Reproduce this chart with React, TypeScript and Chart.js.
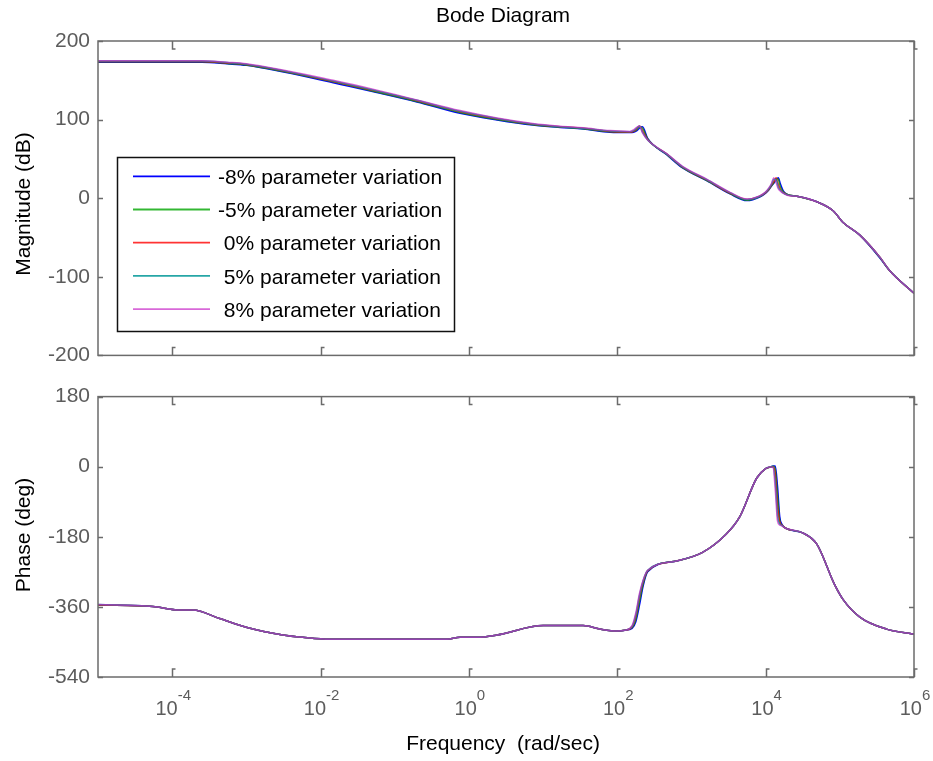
import React, { useEffect, useRef } from "react";
import { Chart, registerables } from "chart.js";

Chart.register(...registerables);

// ---------- data ----------
const seriesLabels = [
  "-8% parameter variation",
  "-5% parameter variation",
  " 0% parameter variation",
  " 5% parameter variation",
  " 8% parameter variation",
];
const seriesColors = [
  "#0000ff",
  "rgba(0,165,0,0.8)",
  "rgba(255,0,0,0.8)",
  "rgba(0,150,150,0.85)",
  "rgba(200,40,200,0.7)",
];

// frequency grid for magnitude, as log10(rad/sec)
const magFreqExp = [
  -5, -3.6, -3.26, -3.0, -1.83, -1.24, -0.7, -0.12, 0.38, 0.86,
  1.23, 1.54, 1.9, 2.17, 2.22, 2.26, 2.3, 2.34, 2.41, 2.67,
  2.88, 3.21, 3.52, 3.75, 3.92, 4.0, 4.05, 4.08, 4.11, 4.14,
  4.17, 4.2, 4.24, 4.3, 4.42, 4.69, 4.91, 5.04, 5.27, 5.54,
  5.67, 6.0,
];
const magMinus8 = [
  173, 173, 171, 169, 147, 134.5, 122.5, 108, 99.5, 93,
  90, 88, 84, 83.5, 84, 85.5, 89, 91, 76, 55,
  38.5, 22, 5.5, -3, 1.5, 6.5, 11.5, 15.5, 19, 23,
  26, 18, 9, 4.5, 2.5, -4.5, -16, -30.5, -47, -76,
  -92, -121,
];
const magMinus5 = [
  173.5, 173.5, 171.5, 169.5, 148, 135, 123, 109, 100, 93.5,
  90.5, 88.5, 84.5, 84, 85, 87, 91, 89, 75.5, 55.5,
  39, 22.5, 6, -2.5, 2, 7, 12, 16, 20, 25,
  24, 14, 8, 4.5, 2.5, -4.5, -16, -30.5, -47, -75.5,
  -92, -121,
];
const magZero = [
  174, 174, 172, 170, 148.5, 136, 124, 110, 101, 94,
  91, 89, 85, 84, 85, 88, 92, 86, 74.5, 56,
  39.5, 23, 6.5, -1.6, 2.5, 7, 12, 17, 21, 26,
  18, 11, 7, 4, 2.5, -4.5, -16, -30.5, -47, -75,
  -92, -121,
];
const magPlus5 = [
  174.5, 174.5, 172.5, 170.5, 149, 136.5, 124.5, 110.5, 101.5, 94.5,
  91, 89, 85.5, 84.5, 86, 89, 92, 84, 74, 56,
  40, 23.5, 7, -1.5, 2.5, 7.5, 13, 18, 24, 24,
  14, 10, 6.5, 4, 2.5, -4.5, -16, -30.5, -47, -75,
  -92, -121,
];
const magPlus8 = [
  175, 175, 173, 171, 150, 137.5, 125, 111.5, 102, 95,
  91.5, 89.5, 86, 85, 87, 90, 92, 83, 74, 56.5,
  40.5, 24, 7.5, -1, 3, 8, 14, 19, 26, 20,
  12, 9, 6, 3.5, 2.5, -4.5, -16, -30.5, -47, -75,
  -92, -121,
];

// frequency grid for phase, as log10(rad/sec)
const phaseFreqExp = [
  -5, -4.26, -3.9, -3.72, -3.36, -2.99, -2.51, -2.24, -1.87, -0.3,
  -0.12, 0.11, 0.38, 1.0, 1.54, 1.77, 2.0, 2.1, 2.2, 2.25,
  2.3, 2.35, 2.41, 2.8, 3.15, 3.47, 3.65, 3.88, 4.0, 4.06,
  4.1, 4.13, 4.16, 4.19, 4.22, 4.27, 4.5, 4.69, 4.93, 5.04,
  5.27, 5.63, 6.0,
];
const phaseMinus8 = [
  -355, -359, -368, -368, -390, -413, -432, -438, -443, -443,
  -438, -438, -432, -408, -408, -417, -422, -420, -415, -398,
  -355, -305, -270, -242, -220, -173, -129, -29, -5, -1,
  2, 2, -50, -128, -148, -158, -170, -199, -303, -340,
  -386, -417, -430,
];
const phaseMinus5 = [
  -355, -359, -368, -368, -390, -413, -432, -438, -443, -443,
  -438, -438, -432, -408, -408, -417, -422, -420, -413, -392,
  -345, -300, -268, -242, -220, -173, -129, -29, -5, -1,
  1, -8, -75, -138, -150, -158, -170, -199, -303, -340,
  -386, -417, -430,
];
const phaseZero = [
  -355, -359, -368, -368, -390, -413, -432, -438, -443, -443,
  -438, -438, -432, -408, -408, -417, -422, -420, -411, -385,
  -335, -295, -267, -242, -220, -173, -129, -29, -5, -1,
  0, -20, -100, -142, -150, -158, -170, -199, -303, -340,
  -386, -417, -430,
];
const phasePlus5 = [
  -354, -359, -368, -368, -390, -413, -432, -438, -443, -443,
  -438, -438, -432, -408, -408, -417, -422, -420, -410, -380,
  -330, -292, -266, -242, -220, -173, -129, -29, -5, -1,
  -1, -40, -125, -147, -151, -158, -170, -199, -303, -340,
  -386, -417, -430,
];
const phasePlus8 = [
  -354, -359, -368, -368, -390, -413, -432, -438, -443, -443,
  -438, -438, -432, -408, -408, -417, -422, -420, -408, -375,
  -325, -290, -266, -242, -220, -173, -129, -29, -5, -1,
  -2, -60, -140, -150, -152, -158, -170, -199, -303, -340,
  -386, -417, -430,
];

const xTickExps = [-4, -2, 0, 2, 4, 6];
const magTicks = [-200, -100, 0, 100, 200];
const phaseTicks = [-540, -360, -180, 0, 180];

const titleText = "Bode Diagram";
const magAxisTitle = "Magnitude (dB)";
const phaseAxisTitle = "Phase (deg)";
const freqAxisTitle = "Frequency  (rad/sec)";

// ---------- styling ----------
const FONT = '"Liberation Sans", Arial, Helvetica, sans-serif';
const AXIS_GRAY = "#6b6b6b";
const TICK_TEXT = "#5c5c5c";
const W = 933;
const TOP_H = 376;
const BOT_H = 761 - TOP_H;

const toPoints = (exps: number[], vals: number[]) =>
  exps.map((e, i) => ({ x: Math.pow(10, e), y: vals[i] }));

function makeDatasets(exps: number[], series: number[][]) {
  return series.map((vals, i) => ({
    label: seriesLabels[i],
    data: toPoints(exps, vals),
    borderColor: seriesColors[i],
    backgroundColor: seriesColors[i],
    borderWidth: 1.5,
    pointRadius: 0,
    fill: false,
    cubicInterpolationMode: "monotone" as const,
    order: 5 - i,
  }));
}

function framePlugin(id: string, yTicks: number[]) {
  return {
    id,
    afterDatasetsDraw(chart: any) {
      const { ctx, chartArea: a, scales } = chart;
      const xs = scales.x;
      const ys = scales.y;
      ctx.save();
      ctx.strokeStyle = AXIS_GRAY;
      ctx.lineWidth = 1.5;
      ctx.strokeRect(a.left, a.top, a.right - a.left, a.bottom - a.top);
      ctx.lineWidth = 1.5;
      for (const v of yTicks) {
        const y = Math.round(ys.getPixelForValue(v)) + 0.5;
        ctx.beginPath();
        ctx.moveTo(a.left, y);
        ctx.lineTo(a.left + 5, y);
        ctx.moveTo(a.right - 5, y);
        ctx.lineTo(a.right, y);
        ctx.stroke();
      }
      for (const e of xTickExps) {
        const x = Math.round(xs.getPixelForValue(Math.pow(10, e))) + 0.5;
        ctx.beginPath();
        ctx.moveTo(x, a.top);
        ctx.lineTo(x, a.top + 8);
        ctx.lineTo(x + 3, a.top + 8);
        ctx.moveTo(x, a.bottom);
        ctx.lineTo(x, a.bottom - 8);
        ctx.lineTo(x + 3, a.bottom - 8);
        ctx.stroke();
      }
      ctx.restore();
    },
  };
}

function drawVerticalTitle(ctx: CanvasRenderingContext2D, text: string, x: number, y: number) {
  ctx.save();
  ctx.translate(x, y);
  ctx.rotate(-Math.PI / 2);
  ctx.fillStyle = "#000";
  ctx.font = `21px ${FONT}`;
  ctx.textAlign = "center";
  ctx.textBaseline = "alphabetic";
  ctx.fillText(text, 0, 0);
  ctx.restore();
}

const topDecor = {
  id: "topDecor",
  afterDraw(chart: any) {
    const ctx: CanvasRenderingContext2D = chart.ctx;
    ctx.save();
    // title
    ctx.fillStyle = "#000";
    ctx.font = `21px ${FONT}`;
    ctx.textAlign = "center";
    ctx.textBaseline = "alphabetic";
    ctx.fillText(titleText, 503, 22);
    // legend
    ctx.fillStyle = "#fff";
    ctx.fillRect(117, 157, 338, 174);
    ctx.strokeStyle = "#111";
    ctx.lineWidth = 1.5;
    ctx.strokeRect(117.5, 157.5, 337, 174);
    chart.data.datasets.forEach((ds: any, i: number) => {
      const y = 176.3 + i * 33.2;
      ctx.strokeStyle = ds.borderColor;
      ctx.lineWidth = 1.8;
      ctx.beginPath();
      ctx.moveTo(133, y);
      ctx.lineTo(210, y);
      ctx.stroke();
      ctx.fillStyle = "#000";
      ctx.font = `21px ${FONT}`;
      ctx.textAlign = "left";
      ctx.textBaseline = "middle";
      ctx.fillText(ds.label, 218, y + 2);
    });
    ctx.restore();
    drawVerticalTitle(ctx, magAxisTitle, 30, 204);
  },
};

const bottomDecor = {
  id: "bottomDecor",
  afterDraw(chart: any) {
    const ctx: CanvasRenderingContext2D = chart.ctx;
    const xs = chart.scales.x;
    ctx.save();
    ctx.fillStyle = TICK_TEXT;
    ctx.textBaseline = "alphabetic";
    ctx.textAlign = "left";
    for (const e of xTickExps) {
      const x = xs.getPixelForValue(Math.pow(10, e));
      const base = "10";
      const exp = String(e);
      ctx.font = `20px ${FONT}`;
      const wb = ctx.measureText(base).width;
      ctx.font = `15px ${FONT}`;
      const we = ctx.measureText(exp).width;
      const start = x - (wb + we) / 2 + 1;
      ctx.font = `20px ${FONT}`;
      ctx.fillText(base, start, 339);
      ctx.font = `15px ${FONT}`;
      ctx.fillText(exp, start + wb, 324);
    }
    ctx.fillStyle = "#000";
    ctx.font = `21px ${FONT}`;
    ctx.textAlign = "center";
    ctx.fillText(freqAxisTitle, 503, 374);
    ctx.restore();
    drawVerticalTitle(ctx, phaseAxisTitle, 30, 535 - TOP_H);
  },
};

function yAxis(min: number, max: number, ticks: number[]) {
  return {
    type: "linear" as const,
    position: "left" as const,
    min,
    max,
    grid: { display: false, drawTicks: false },
    border: { display: false },
    ticks: {
      color: TICK_TEXT,
      padding: 8,
      font: { family: FONT, size: 21 },
    },
    afterBuildTicks: (s: any) => {
      s.ticks = ticks.map((v) => ({ value: v }));
    },
    afterFit: (s: any) => {
      s.width = 98;
    },
  };
}

const xAxis = {
  type: "logarithmic" as const,
  min: 1e-5,
  max: 1e6,
  display: false,
};

export default function App() {
  const topRef = useRef<HTMLCanvasElement>(null);
  const botRef = useRef<HTMLCanvasElement>(null);

  useEffect(() => {
    const top = new Chart(topRef.current as HTMLCanvasElement, {
      type: "line",
      data: {
        datasets: makeDatasets(magFreqExp, [magMinus8, magMinus5, magZero, magPlus5, magPlus8]) as any,
      },
      options: {
        animation: false,
        responsive: false,
        devicePixelRatio: 1,
        parsing: true,
        layout: { padding: { left: 0, right: 19, top: 41, bottom: 12 } },
        plugins: { legend: { display: false }, tooltip: { enabled: false }, title: { display: false } },
        scales: { x: xAxis as any, y: yAxis(-200, 200, magTicks) as any },
      },
      plugins: [framePlugin("topFrame", magTicks), topDecor],
    });
    const bot = new Chart(botRef.current as HTMLCanvasElement, {
      type: "line",
      data: {
        datasets: makeDatasets(phaseFreqExp, [phaseMinus8, phaseMinus5, phaseZero, phasePlus5, phasePlus8]) as any,
      },
      options: {
        animation: false,
        responsive: false,
        devicePixelRatio: 1,
        layout: { padding: { left: 0, right: 19, top: 388 - TOP_H, bottom: 761 - 677 } },
        plugins: { legend: { display: false }, tooltip: { enabled: false }, title: { display: false } },
        scales: { x: xAxis as any, y: yAxis(-540, 180, phaseTicks) as any },
      },
      plugins: [framePlugin("botFrame", phaseTicks), bottomDecor],
    });
    return () => {
      top.destroy();
      bot.destroy();
    };
  }, []);

  return (
    <div style={{ position: "absolute", left: 0, top: 0, width: W, height: 761, background: "#fff" }}>
      <canvas
        ref={topRef}
        width={W}
        height={TOP_H}
        style={{ position: "absolute", left: 0, top: 0, width: W, height: TOP_H }}
      />
      <canvas
        ref={botRef}
        width={W}
        height={BOT_H}
        style={{ position: "absolute", left: 0, top: TOP_H, width: W, height: BOT_H }}
      />
    </div>
  );
}
